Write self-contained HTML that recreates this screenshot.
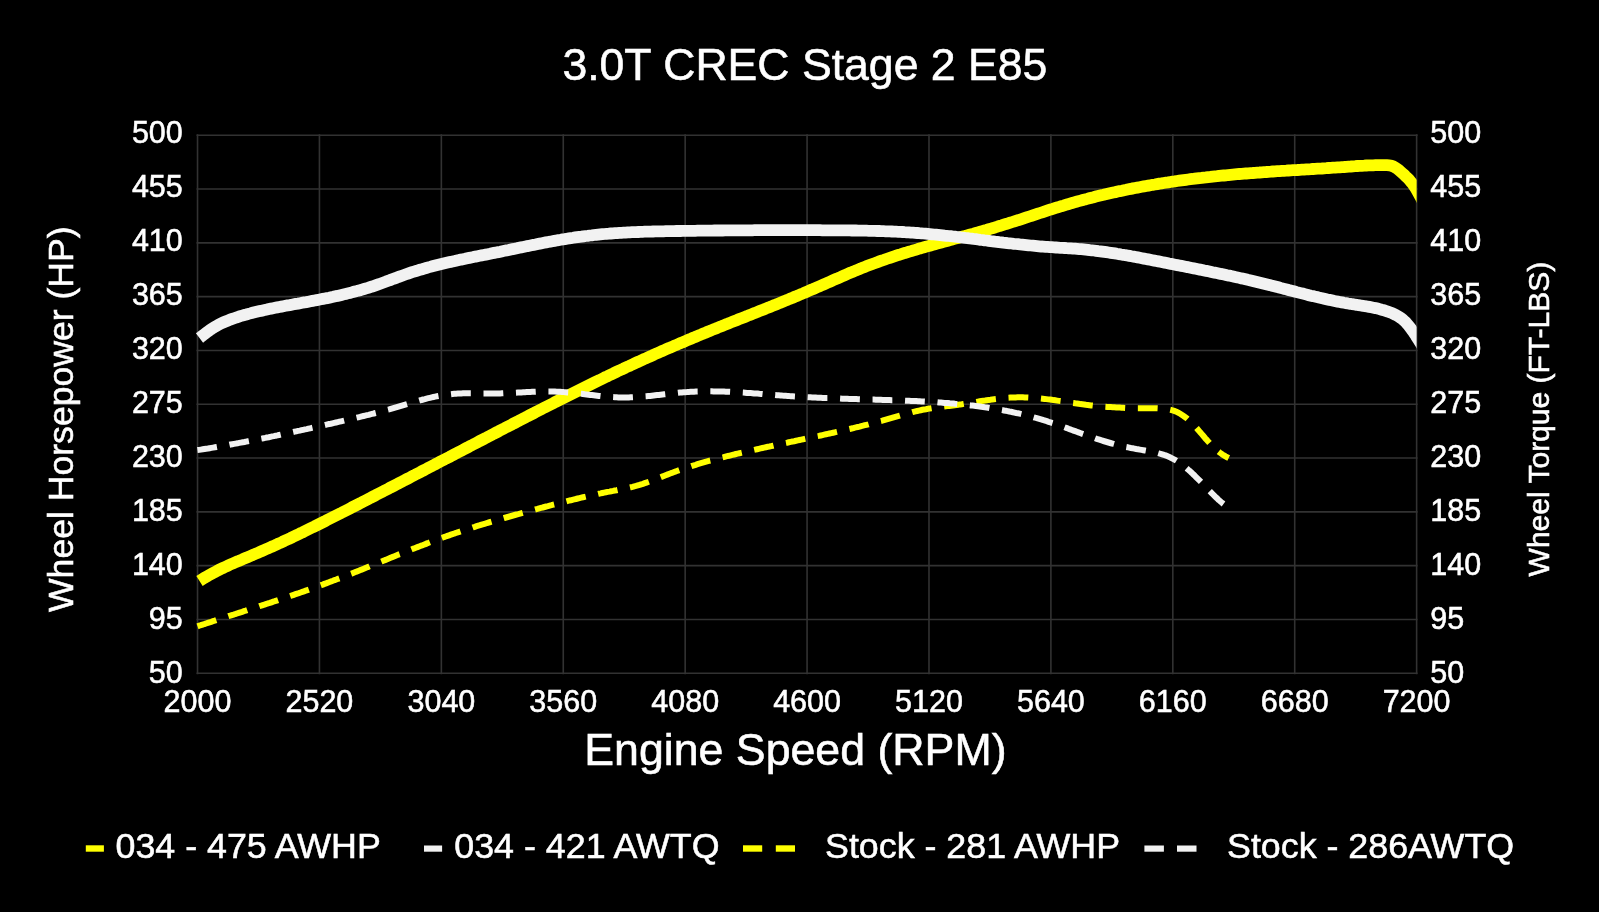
<!DOCTYPE html>
<html><head><meta charset="utf-8"><title>3.0T CREC Stage 2 E85</title><style>html,body{margin:0;padding:0;background:#000;width:1599px;height:912px;overflow:hidden}svg text{font-family:"Liberation Sans",sans-serif}</style></head><body>
<svg width="1599" height="912" viewBox="0 0 1599 912" style="display:block;will-change:transform">
<rect width="1599" height="912" fill="#000"/>
<defs><clipPath id="pa"><rect x="193.53" y="115.25" width="1223.10" height="578.00"/></clipPath></defs>
<g stroke="#323232" stroke-width="1.6"><line x1="196.5" y1="135.25" x2="1417.6" y2="135.25"/><line x1="197.53" y1="134.2" x2="197.53" y2="674.2"/><line x1="196.5" y1="189.05" x2="1417.6" y2="189.05"/><line x1="319.44" y1="134.2" x2="319.44" y2="674.2"/><line x1="196.5" y1="242.85" x2="1417.6" y2="242.85"/><line x1="441.35" y1="134.2" x2="441.35" y2="674.2"/><line x1="196.5" y1="296.65" x2="1417.6" y2="296.65"/><line x1="563.26" y1="134.2" x2="563.26" y2="674.2"/><line x1="196.5" y1="350.45" x2="1417.6" y2="350.45"/><line x1="685.17" y1="134.2" x2="685.17" y2="674.2"/><line x1="196.5" y1="404.25" x2="1417.6" y2="404.25"/><line x1="807.08" y1="134.2" x2="807.08" y2="674.2"/><line x1="196.5" y1="458.05" x2="1417.6" y2="458.05"/><line x1="928.99" y1="134.2" x2="928.99" y2="674.2"/><line x1="196.5" y1="511.85" x2="1417.6" y2="511.85"/><line x1="1050.90" y1="134.2" x2="1050.90" y2="674.2"/><line x1="196.5" y1="565.65" x2="1417.6" y2="565.65"/><line x1="1172.81" y1="134.2" x2="1172.81" y2="674.2"/><line x1="196.5" y1="619.45" x2="1417.6" y2="619.45"/><line x1="1294.72" y1="134.2" x2="1294.72" y2="674.2"/><line x1="196.5" y1="673.25" x2="1417.6" y2="673.25"/><line x1="1416.63" y1="134.2" x2="1416.63" y2="674.2"/></g>
<g clip-path="url(#pa)" fill="none">
<path d="M199.5,581.0 L201.4,579.8 L203.3,578.6 L205.2,577.4 L207.1,576.3 L209.1,575.2 L211.0,574.1 L213.0,573.0 L215.0,572.0 L216.9,570.9 L218.9,569.9 L220.9,568.9 L222.9,568.0 L225.0,567.0 L227.0,566.1 L229.0,565.1 L231.1,564.2 L233.1,563.3 L235.2,562.4 L237.2,561.5 L239.3,560.7 L241.4,559.8 L243.4,558.9 L245.5,558.0 L247.5,557.2 L249.6,556.3 L251.7,555.4 L253.7,554.6 L255.8,553.7 L257.9,552.8 L259.9,551.9 L262.0,551.0 L264.0,550.1 L266.1,549.2 L268.1,548.3 L270.2,547.4 L272.2,546.5 L274.3,545.6 L276.3,544.7 L278.3,543.7 L280.4,542.8 L282.4,541.9 L284.4,540.9 L286.5,540.0 L288.5,539.0 L290.5,538.1 L292.5,537.1 L294.5,536.2 L296.6,535.2 L298.6,534.2 L300.6,533.2 L302.6,532.3 L304.6,531.3 L306.6,530.3 L308.6,529.3 L310.6,528.3 L312.6,527.3 L314.6,526.4 L316.6,525.4 L318.6,524.4 L320.6,523.4 L322.6,522.4 L324.6,521.4 L326.6,520.3 L328.6,519.3 L330.6,518.3 L332.6,517.3 L334.6,516.3 L336.6,515.3 L338.6,514.3 L340.6,513.3 L342.6,512.2 L344.6,511.2 L346.6,510.2 L348.6,509.2 L350.5,508.2 L352.5,507.1 L354.5,506.1 L356.5,505.1 L358.5,504.1 L360.5,503.1 L362.5,502.0 L364.5,501.0 L366.5,500.0 L368.4,499.0 L370.4,497.9 L372.4,496.9 L374.4,495.9 L376.4,494.8 L378.4,493.8 L380.4,492.8 L382.4,491.8 L384.3,490.7 L386.3,489.7 L388.3,488.7 L390.3,487.6 L392.3,486.6 L394.3,485.6 L396.3,484.6 L398.3,483.5 L400.2,482.5 L402.2,481.5 L404.2,480.4 L406.2,479.4 L408.2,478.4 L410.2,477.3 L412.1,476.3 L414.1,475.3 L416.1,474.2 L418.1,473.2 L420.1,472.2 L422.1,471.1 L424.1,470.1 L426.0,469.1 L428.0,468.0 L430.0,467.0 L432.0,466.0 L434.0,464.9 L436.0,463.9 L437.9,462.9 L439.9,461.8 L441.9,460.8 L443.9,459.8 L445.9,458.7 L447.9,457.7 L449.9,456.7 L451.8,455.6 L453.8,454.6 L455.8,453.6 L457.8,452.5 L459.8,451.5 L461.8,450.5 L463.7,449.4 L465.7,448.4 L467.7,447.4 L469.7,446.3 L471.7,445.3 L473.7,444.2 L475.7,443.2 L477.6,442.2 L479.6,441.1 L481.6,440.1 L483.6,439.1 L485.6,438.1 L487.6,437.0 L489.6,436.0 L491.5,435.0 L493.5,433.9 L495.5,432.9 L497.5,431.9 L499.5,430.8 L501.5,429.8 L503.5,428.8 L505.5,427.7 L507.4,426.7 L509.4,425.7 L511.4,424.7 L513.4,423.6 L515.4,422.6 L517.4,421.6 L519.4,420.5 L521.4,419.5 L523.3,418.5 L525.3,417.5 L527.3,416.4 L529.3,415.4 L531.3,414.4 L533.3,413.4 L535.3,412.3 L537.3,411.3 L539.3,410.3 L541.3,409.3 L543.3,408.2 L545.2,407.2 L547.2,406.2 L549.2,405.2 L551.2,404.2 L553.2,403.2 L555.2,402.1 L557.2,401.1 L559.2,400.1 L561.2,399.1 L563.2,398.1 L565.2,397.1 L567.2,396.1 L569.2,395.1 L571.2,394.1 L573.2,393.1 L575.2,392.1 L577.2,391.1 L579.2,390.1 L581.2,389.1 L583.2,388.1 L585.2,387.1 L587.2,386.1 L589.2,385.1 L591.2,384.1 L593.2,383.1 L595.2,382.1 L597.3,381.1 L599.3,380.2 L601.3,379.2 L603.3,378.2 L605.3,377.2 L607.3,376.3 L609.3,375.3 L611.4,374.3 L613.4,373.4 L615.4,372.4 L617.4,371.4 L619.5,370.5 L621.5,369.5 L623.5,368.6 L625.5,367.6 L627.6,366.7 L629.6,365.8 L631.6,364.8 L633.7,363.9 L635.7,362.9 L637.7,362.0 L639.8,361.1 L641.8,360.2 L643.8,359.2 L645.9,358.3 L647.9,357.4 L650.0,356.5 L652.0,355.6 L654.0,354.6 L656.1,353.7 L658.1,352.8 L660.2,351.9 L662.2,351.0 L664.3,350.1 L666.3,349.2 L668.4,348.3 L670.4,347.5 L672.5,346.6 L674.5,345.7 L676.6,344.8 L678.7,343.9 L680.7,343.0 L682.8,342.2 L684.8,341.3 L686.9,340.4 L689.0,339.5 L691.0,338.7 L693.1,337.8 L695.2,337.0 L697.2,336.1 L699.3,335.2 L701.4,334.4 L703.4,333.5 L705.5,332.7 L707.6,331.8 L709.6,331.0 L711.7,330.1 L713.8,329.3 L715.9,328.5 L717.9,327.6 L720.0,326.8 L722.1,326.0 L724.2,325.1 L726.2,324.3 L728.3,323.5 L730.4,322.6 L732.5,321.8 L734.5,321.0 L736.6,320.2 L738.7,319.3 L740.8,318.5 L742.9,317.7 L744.9,316.9 L747.0,316.1 L749.1,315.2 L751.2,314.4 L753.3,313.6 L755.3,312.8 L757.4,311.9 L759.5,311.1 L761.6,310.3 L763.7,309.5 L765.7,308.6 L767.8,307.8 L769.9,307.0 L772.0,306.1 L774.0,305.3 L776.1,304.5 L778.2,303.6 L780.3,302.8 L782.3,301.9 L784.4,301.1 L786.5,300.2 L788.5,299.4 L790.6,298.5 L792.7,297.7 L794.7,296.8 L796.8,296.0 L798.9,295.1 L800.9,294.2 L803.0,293.4 L805.1,292.5 L807.1,291.6 L809.2,290.7 L811.2,289.8 L813.3,289.0 L815.3,288.1 L817.4,287.2 L819.4,286.3 L821.5,285.4 L823.6,284.5 L825.6,283.6 L827.7,282.7 L829.7,281.8 L831.8,280.8 L833.8,279.9 L835.9,279.0 L837.9,278.2 L840.0,277.3 L842.0,276.4 L844.1,275.5 L846.1,274.6 L848.2,273.7 L850.2,272.8 L852.3,272.0 L854.4,271.1 L856.4,270.3 L858.5,269.4 L860.6,268.6 L862.6,267.7 L864.7,266.9 L866.8,266.1 L868.9,265.3 L871.0,264.5 L873.1,263.7 L875.2,263.0 L877.3,262.2 L879.4,261.4 L881.5,260.7 L883.6,260.0 L885.7,259.2 L887.8,258.5 L889.9,257.8 L892.0,257.1 L894.2,256.4 L896.3,255.7 L898.4,255.0 L900.5,254.4 L902.7,253.7 L904.8,253.0 L906.9,252.4 L909.1,251.7 L911.2,251.1 L913.4,250.4 L915.5,249.8 L917.6,249.2 L919.8,248.5 L921.9,247.9 L924.1,247.3 L926.2,246.7 L928.4,246.1 L930.5,245.5 L932.7,244.9 L934.9,244.3 L937.0,243.7 L939.2,243.1 L941.3,242.5 L943.5,241.9 L945.6,241.3 L947.8,240.7 L950.0,240.1 L952.1,239.5 L954.3,238.9 L956.4,238.3 L958.6,237.7 L960.8,237.1 L962.9,236.5 L965.1,236.0 L967.2,235.4 L969.4,234.8 L971.6,234.2 L973.7,233.6 L975.9,232.9 L978.0,232.3 L980.2,231.7 L982.3,231.1 L984.5,230.5 L986.7,229.9 L988.8,229.2 L991.0,228.6 L993.1,228.0 L995.2,227.3 L997.4,226.7 L999.5,226.0 L1001.7,225.4 L1003.8,224.7 L1006.0,224.0 L1008.1,223.4 L1010.2,222.7 L1012.4,222.0 L1014.5,221.3 L1016.6,220.6 L1018.7,220.0 L1020.9,219.3 L1023.0,218.6 L1025.1,217.9 L1027.3,217.2 L1029.4,216.5 L1031.5,215.8 L1033.6,215.1 L1035.8,214.4 L1037.9,213.7 L1040.0,213.0 L1042.2,212.3 L1044.3,211.6 L1046.4,210.9 L1048.5,210.2 L1050.7,209.5 L1052.8,208.9 L1054.9,208.2 L1057.1,207.5 L1059.2,206.9 L1061.3,206.2 L1063.5,205.6 L1065.6,204.9 L1067.8,204.3 L1069.9,203.6 L1072.1,203.0 L1074.2,202.4 L1076.4,201.8 L1078.5,201.2 L1080.7,200.6 L1082.8,200.0 L1085.0,199.4 L1087.1,198.9 L1089.3,198.3 L1091.5,197.7 L1093.6,197.2 L1095.8,196.6 L1098.0,196.1 L1100.1,195.6 L1102.3,195.1 L1104.5,194.5 L1106.7,194.0 L1108.8,193.5 L1111.0,193.0 L1113.2,192.5 L1115.4,192.1 L1117.6,191.6 L1119.8,191.1 L1121.9,190.7 L1124.1,190.2 L1126.3,189.8 L1128.5,189.3 L1130.7,188.9 L1132.9,188.4 L1135.1,188.0 L1137.3,187.6 L1139.5,187.2 L1141.7,186.8 L1143.9,186.4 L1146.1,186.0 L1148.3,185.6 L1150.5,185.2 L1152.7,184.8 L1154.9,184.5 L1157.1,184.1 L1159.3,183.7 L1161.5,183.4 L1163.8,183.0 L1166.0,182.7 L1168.2,182.4 L1170.4,182.0 L1172.6,181.7 L1174.8,181.4 L1177.0,181.0 L1179.3,180.7 L1181.5,180.4 L1183.7,180.1 L1185.9,179.8 L1188.1,179.5 L1190.4,179.2 L1192.6,179.0 L1194.8,178.7 L1197.0,178.4 L1199.3,178.1 L1201.5,177.9 L1203.7,177.6 L1205.9,177.4 L1208.2,177.1 L1210.4,176.9 L1212.6,176.6 L1214.9,176.4 L1217.1,176.2 L1219.3,175.9 L1221.5,175.7 L1223.8,175.5 L1226.0,175.3 L1228.2,175.0 L1230.5,174.8 L1232.7,174.6 L1234.9,174.4 L1237.2,174.2 L1239.4,174.0 L1241.6,173.9 L1243.9,173.7 L1246.1,173.5 L1248.3,173.3 L1250.6,173.1 L1252.8,173.0 L1255.0,172.8 L1257.3,172.6 L1259.5,172.5 L1261.7,172.3 L1264.0,172.1 L1266.2,172.0 L1268.4,171.8 L1270.7,171.7 L1272.9,171.5 L1275.1,171.4 L1277.3,171.2 L1279.6,171.1 L1281.8,170.9 L1284.0,170.8 L1286.3,170.7 L1288.5,170.5 L1290.7,170.4 L1293.0,170.2 L1295.2,170.1 L1297.4,170.0 L1299.7,169.8 L1301.9,169.7 L1304.1,169.6 L1306.3,169.4 L1308.6,169.3 L1310.8,169.2 L1313.0,169.0 L1315.2,168.9 L1317.5,168.7 L1319.7,168.6 L1321.9,168.5 L1324.1,168.3 L1326.4,168.2 L1328.6,168.0 L1330.8,167.9 L1333.0,167.7 L1335.3,167.6 L1337.5,167.4 L1339.7,167.3 L1341.9,167.1 L1344.1,167.0 L1346.3,166.8 L1348.6,166.6 L1350.8,166.5 L1353.0,166.3 L1355.2,166.2 L1357.5,166.0 L1359.7,165.9 L1361.9,165.8 L1364.2,165.7 L1366.4,165.5 L1368.6,165.4 L1370.9,165.4 L1373.2,165.3 L1375.4,165.2 L1377.7,165.2 L1380.0,165.1 L1382.3,165.1 L1384.6,165.1 L1386.9,165.2 L1389.1,165.3 L1391.3,165.7 L1393.3,166.5 L1395.3,167.5 L1397.1,168.7 L1398.9,170.1 L1400.6,171.6 L1402.3,173.1 L1404.0,174.6 L1405.6,176.2 L1407.2,177.7 L1408.8,179.3 L1410.2,181.0 L1411.6,182.7 L1413.0,184.5 L1414.3,186.3 L1415.5,188.2 L1416.7,190.1 L1417.8,192.1 L1418.9,194.1 L1420.0,196.1 L1421.1,198.1 L1422.1,200.1 L1423.1,202.1 L1424.1,204.2 L1425.1,206.2 L1426.0,208.2 L1427.0,210.2 L1428.0,212.2 L1429.0,214.1 L1430.0,216.0" stroke="#ffff00" stroke-width="11.8"/>
<path d="M199.5,338.0 L201.2,336.7 L202.8,335.4 L204.5,334.1 L206.2,332.8 L207.9,331.6 L209.6,330.3 L211.3,329.1 L213.1,327.9 L214.9,326.8 L216.7,325.8 L218.6,324.7 L220.4,323.8 L222.3,322.9 L224.3,322.0 L226.2,321.2 L228.2,320.4 L230.2,319.6 L232.2,318.9 L234.2,318.2 L236.2,317.5 L238.2,316.9 L240.2,316.2 L242.3,315.6 L244.3,315.0 L246.3,314.5 L248.4,313.9 L250.4,313.4 L252.5,312.8 L254.5,312.3 L256.6,311.8 L258.6,311.3 L260.7,310.9 L262.8,310.4 L264.8,309.9 L266.9,309.5 L268.9,309.0 L271.0,308.6 L273.1,308.2 L275.1,307.8 L277.2,307.4 L279.3,307.0 L281.4,306.6 L283.4,306.2 L285.5,305.8 L287.6,305.4 L289.7,305.1 L291.8,304.7 L293.8,304.3 L295.9,303.9 L298.0,303.6 L300.1,303.2 L302.1,302.8 L304.2,302.4 L306.3,302.1 L308.4,301.7 L310.5,301.3 L312.5,300.9 L314.6,300.5 L316.7,300.1 L318.8,299.7 L320.9,299.3 L322.9,298.9 L325.0,298.5 L327.1,298.1 L329.2,297.7 L331.2,297.2 L333.3,296.8 L335.4,296.3 L337.4,295.9 L339.5,295.4 L341.6,294.9 L343.6,294.4 L345.7,293.9 L347.7,293.4 L349.8,292.9 L351.8,292.4 L353.9,291.8 L355.9,291.3 L358.0,290.7 L360.0,290.2 L362.0,289.6 L364.1,289.0 L366.1,288.4 L368.1,287.8 L370.1,287.1 L372.1,286.5 L374.2,285.8 L376.2,285.1 L378.2,284.4 L380.2,283.7 L382.2,283.0 L384.2,282.3 L386.1,281.6 L388.1,280.8 L390.1,280.1 L392.1,279.3 L394.1,278.6 L396.1,277.9 L398.1,277.1 L400.1,276.4 L402.0,275.7 L404.0,275.0 L406.0,274.3 L408.0,273.6 L410.0,272.9 L412.0,272.2 L414.0,271.6 L416.1,271.0 L418.1,270.4 L420.1,269.7 L422.1,269.2 L424.1,268.6 L426.2,268.0 L428.2,267.4 L430.2,266.9 L432.3,266.3 L434.3,265.8 L436.3,265.3 L438.4,264.8 L440.4,264.3 L442.5,263.8 L444.5,263.3 L446.6,262.8 L448.6,262.3 L450.7,261.9 L452.7,261.4 L454.8,261.0 L456.9,260.5 L458.9,260.1 L461.0,259.6 L463.1,259.2 L465.1,258.8 L467.2,258.3 L469.3,257.9 L471.3,257.5 L473.4,257.1 L475.5,256.6 L477.5,256.2 L479.6,255.8 L481.7,255.4 L483.8,255.0 L485.8,254.6 L487.9,254.2 L490.0,253.8 L492.1,253.3 L494.1,252.9 L496.2,252.5 L498.3,252.1 L500.4,251.7 L502.4,251.2 L504.5,250.8 L506.6,250.4 L508.7,250.0 L510.7,249.5 L512.8,249.1 L514.9,248.7 L517.0,248.3 L519.0,247.8 L521.1,247.4 L523.2,247.0 L525.3,246.6 L527.3,246.1 L529.4,245.7 L531.5,245.3 L533.6,244.9 L535.6,244.5 L537.7,244.0 L539.8,243.6 L541.9,243.2 L544.0,242.8 L546.0,242.4 L548.1,242.0 L550.2,241.7 L552.3,241.3 L554.4,240.9 L556.4,240.5 L558.5,240.1 L560.6,239.8 L562.7,239.4 L564.8,239.1 L566.9,238.7 L568.9,238.4 L571.0,238.1 L573.1,237.8 L575.2,237.4 L577.3,237.1 L579.4,236.8 L581.5,236.6 L583.6,236.3 L585.7,236.0 L587.8,235.8 L589.9,235.5 L592.0,235.3 L594.0,235.0 L596.1,234.8 L598.2,234.6 L600.3,234.4 L602.4,234.2 L604.5,234.0 L606.6,233.8 L608.8,233.7 L610.9,233.5 L613.0,233.4 L615.1,233.2 L617.2,233.1 L619.3,232.9 L621.4,232.8 L623.5,232.7 L625.6,232.6 L627.7,232.4 L629.8,232.3 L631.9,232.2 L634.0,232.1 L636.1,232.1 L638.3,232.0 L640.4,231.9 L642.5,231.8 L644.6,231.7 L646.7,231.7 L648.8,231.6 L650.9,231.6 L653.0,231.5 L655.2,231.4 L657.3,231.4 L659.4,231.3 L661.5,231.3 L663.6,231.3 L665.7,231.2 L667.8,231.2 L670.0,231.1 L672.1,231.1 L674.2,231.1 L676.3,231.0 L678.4,231.0 L680.5,231.0 L682.6,230.9 L684.8,230.9 L686.9,230.9 L689.0,230.8 L691.1,230.8 L693.2,230.8 L695.3,230.8 L697.4,230.7 L699.6,230.7 L701.7,230.7 L703.8,230.7 L705.9,230.6 L708.0,230.6 L710.1,230.6 L712.2,230.6 L714.4,230.5 L716.5,230.5 L718.6,230.5 L720.7,230.5 L722.8,230.5 L724.9,230.4 L727.0,230.4 L729.2,230.4 L731.3,230.4 L733.4,230.4 L735.5,230.4 L737.6,230.3 L739.7,230.3 L741.8,230.3 L744.0,230.3 L746.1,230.3 L748.2,230.3 L750.3,230.3 L752.4,230.3 L754.5,230.2 L756.6,230.2 L758.7,230.2 L760.9,230.2 L763.0,230.2 L765.1,230.2 L767.2,230.2 L769.3,230.2 L771.4,230.2 L773.5,230.2 L775.7,230.2 L777.8,230.2 L779.9,230.2 L782.0,230.2 L784.1,230.2 L786.2,230.2 L788.3,230.2 L790.5,230.2 L792.6,230.2 L794.7,230.2 L796.8,230.2 L798.9,230.2 L801.0,230.2 L803.1,230.2 L805.3,230.2 L807.4,230.2 L809.5,230.2 L811.6,230.2 L813.7,230.2 L815.8,230.2 L817.9,230.2 L820.1,230.2 L822.2,230.3 L824.3,230.3 L826.4,230.3 L828.5,230.3 L830.6,230.3 L832.7,230.3 L834.9,230.3 L837.0,230.3 L839.1,230.3 L841.2,230.4 L843.3,230.4 L845.4,230.4 L847.5,230.4 L849.7,230.4 L851.8,230.5 L853.9,230.5 L856.0,230.5 L858.1,230.6 L860.2,230.6 L862.3,230.6 L864.5,230.7 L866.6,230.7 L868.7,230.8 L870.8,230.8 L872.9,230.9 L875.0,230.9 L877.1,231.0 L879.2,231.0 L881.4,231.1 L883.5,231.2 L885.6,231.3 L887.7,231.3 L889.8,231.4 L891.9,231.5 L894.0,231.6 L896.1,231.7 L898.2,231.8 L900.3,231.9 L902.5,232.0 L904.6,232.2 L906.7,232.3 L908.8,232.4 L910.9,232.6 L913.0,232.7 L915.1,232.9 L917.2,233.0 L919.3,233.2 L921.4,233.3 L923.5,233.5 L925.6,233.7 L927.7,233.9 L929.8,234.1 L931.9,234.3 L934.0,234.5 L936.1,234.7 L938.2,234.9 L940.3,235.1 L942.4,235.3 L944.5,235.6 L946.6,235.8 L948.7,236.0 L950.8,236.2 L952.9,236.5 L955.0,236.7 L957.1,237.0 L959.2,237.2 L961.3,237.5 L963.4,237.7 L965.5,238.0 L967.6,238.2 L969.7,238.5 L971.8,238.7 L973.9,239.0 L976.0,239.2 L978.1,239.5 L980.2,239.8 L982.3,240.0 L984.4,240.3 L986.5,240.5 L988.6,240.8 L990.7,241.1 L992.8,241.3 L994.9,241.6 L997.0,241.8 L999.1,242.1 L1001.2,242.3 L1003.3,242.6 L1005.4,242.8 L1007.5,243.1 L1009.6,243.3 L1011.7,243.5 L1013.8,243.8 L1015.9,244.0 L1018.1,244.2 L1020.2,244.5 L1022.3,244.7 L1024.4,244.9 L1026.5,245.1 L1028.6,245.3 L1030.7,245.5 L1032.8,245.7 L1034.9,245.9 L1037.0,246.1 L1039.1,246.3 L1041.2,246.5 L1043.3,246.6 L1045.5,246.8 L1047.6,246.9 L1049.7,247.1 L1051.8,247.2 L1053.9,247.4 L1056.0,247.5 L1058.1,247.6 L1060.3,247.8 L1062.4,247.9 L1064.5,248.0 L1066.6,248.2 L1068.7,248.3 L1070.8,248.4 L1073.0,248.6 L1075.1,248.7 L1077.2,248.9 L1079.3,249.1 L1081.4,249.2 L1083.5,249.4 L1085.6,249.6 L1087.7,249.8 L1089.8,250.1 L1091.9,250.3 L1094.0,250.5 L1096.1,250.8 L1098.2,251.1 L1100.3,251.3 L1102.3,251.6 L1104.4,251.9 L1106.5,252.2 L1108.6,252.5 L1110.7,252.8 L1112.8,253.1 L1114.9,253.4 L1116.9,253.8 L1119.0,254.1 L1121.1,254.5 L1123.2,254.8 L1125.3,255.2 L1127.3,255.5 L1129.4,255.9 L1131.5,256.3 L1133.6,256.6 L1135.6,257.0 L1137.7,257.4 L1139.8,257.8 L1141.9,258.2 L1143.9,258.6 L1146.0,259.0 L1148.1,259.4 L1150.2,259.8 L1152.2,260.2 L1154.3,260.6 L1156.4,261.0 L1158.5,261.4 L1160.5,261.8 L1162.6,262.2 L1164.7,262.6 L1166.8,263.0 L1168.8,263.5 L1170.9,263.9 L1173.0,264.3 L1175.1,264.7 L1177.2,265.1 L1179.2,265.5 L1181.3,265.9 L1183.4,266.3 L1185.5,266.7 L1187.6,267.1 L1189.6,267.6 L1191.7,268.0 L1193.8,268.4 L1195.9,268.8 L1198.0,269.2 L1200.0,269.6 L1202.1,270.0 L1204.2,270.5 L1206.3,270.9 L1208.4,271.3 L1210.4,271.7 L1212.5,272.2 L1214.6,272.6 L1216.7,273.0 L1218.7,273.4 L1220.8,273.9 L1222.9,274.3 L1225.0,274.7 L1227.0,275.2 L1229.1,275.6 L1231.2,276.1 L1233.2,276.5 L1235.3,277.0 L1237.4,277.4 L1239.4,277.9 L1241.5,278.4 L1243.6,278.8 L1245.6,279.3 L1247.7,279.8 L1249.7,280.2 L1251.8,280.7 L1253.8,281.2 L1255.9,281.7 L1257.9,282.2 L1260.0,282.7 L1262.0,283.2 L1264.1,283.7 L1266.1,284.2 L1268.2,284.7 L1270.2,285.2 L1272.2,285.8 L1274.3,286.3 L1276.3,286.8 L1278.4,287.3 L1280.4,287.9 L1282.4,288.4 L1284.5,288.9 L1286.5,289.4 L1288.5,290.0 L1290.5,290.5 L1292.6,291.0 L1294.6,291.5 L1296.7,292.1 L1298.7,292.6 L1300.7,293.1 L1302.8,293.6 L1304.8,294.1 L1306.8,294.6 L1308.9,295.2 L1310.9,295.7 L1313.0,296.1 L1315.0,296.6 L1317.1,297.1 L1319.1,297.6 L1321.2,298.1 L1323.2,298.5 L1325.3,299.0 L1327.3,299.5 L1329.4,299.9 L1331.5,300.3 L1333.5,300.8 L1335.6,301.2 L1337.7,301.6 L1339.8,302.0 L1341.9,302.4 L1344.0,302.8 L1346.0,303.1 L1348.1,303.5 L1350.2,303.8 L1352.4,304.2 L1354.5,304.5 L1356.6,304.8 L1358.7,305.2 L1360.8,305.5 L1362.9,305.8 L1365.0,306.2 L1367.1,306.5 L1369.2,306.9 L1371.3,307.3 L1373.4,307.7 L1375.5,308.1 L1377.6,308.6 L1379.6,309.1 L1381.7,309.7 L1383.7,310.2 L1385.7,310.9 L1387.7,311.5 L1389.7,312.3 L1391.7,313.0 L1393.6,313.9 L1395.5,314.8 L1397.4,315.8 L1399.2,316.9 L1400.9,318.1 L1402.6,319.4 L1404.2,320.8 L1405.7,322.2 L1407.1,323.8 L1408.5,325.4 L1409.8,327.1 L1411.1,328.8 L1412.3,330.5 L1413.5,332.2 L1414.7,334.0 L1415.9,335.8 L1417.0,337.6 L1418.1,339.4 L1419.2,341.1 L1420.3,342.9 L1421.5,344.7 L1422.6,346.5 L1423.8,348.2 L1425.0,350.0" stroke="#f2f2f2" stroke-width="11.8"/>
<path d="M197.5,626.3 L199.2,625.7 L200.9,625.2 L202.6,624.6 L204.4,624.0 L206.1,623.5 L207.8,622.9 L209.5,622.3 L211.2,621.8 L213.0,621.2 L214.7,620.7 L216.4,620.1 L218.1,619.6 L219.8,619.0 L221.6,618.4 L223.3,617.9 L225.0,617.3 L226.7,616.8 L228.4,616.2 L230.2,615.7 L231.9,615.1 L233.6,614.6 L235.3,614.0 L237.1,613.5 L238.8,612.9 L240.5,612.3 L242.2,611.8 L243.9,611.2 L245.7,610.7 L247.4,610.1 L249.1,609.6 L250.8,609.0 L252.6,608.5 L254.3,607.9 L256.0,607.3 L257.7,606.8 L259.4,606.2 L261.2,605.7 L262.9,605.1 L264.6,604.5 L266.3,604.0 L268.0,603.4 L269.8,602.9 L271.5,602.3 L273.2,601.7 L274.9,601.2 L276.6,600.6 L278.3,600.0 L280.1,599.4 L281.8,598.9 L283.5,598.3 L285.2,597.7 L286.9,597.1 L288.6,596.6 L290.3,596.0 L292.1,595.4 L293.8,594.8 L295.5,594.2 L297.2,593.6 L298.9,593.1 L300.6,592.5 L302.3,591.9 L304.0,591.3 L305.7,590.7 L307.4,590.1 L309.1,589.5 L310.8,588.9 L312.5,588.3 L314.3,587.7 L316.0,587.0 L317.7,586.4 L319.4,585.8 L321.1,585.2 L322.8,584.6 L324.4,583.9 L326.1,583.3 L327.8,582.7 L329.5,582.0 L331.2,581.4 L332.9,580.8 L334.6,580.1 L336.3,579.5 L338.0,578.8 L339.7,578.2 L341.4,577.5 L343.0,576.9 L344.7,576.2 L346.4,575.6 L348.1,574.9 L349.8,574.2 L351.5,573.6 L353.1,572.9 L354.8,572.2 L356.5,571.6 L358.2,570.9 L359.9,570.2 L361.5,569.6 L363.2,568.9 L364.9,568.2 L366.6,567.5 L368.3,566.9 L369.9,566.2 L371.6,565.5 L373.3,564.8 L375.0,564.1 L376.6,563.5 L378.3,562.8 L380.0,562.1 L381.7,561.4 L383.3,560.7 L385.0,560.1 L386.7,559.4 L388.4,558.7 L390.0,558.0 L391.7,557.3 L393.4,556.7 L395.1,556.0 L396.8,555.3 L398.4,554.6 L400.1,554.0 L401.8,553.3 L403.5,552.6 L405.2,552.0 L406.8,551.3 L408.5,550.6 L410.2,550.0 L411.9,549.3 L413.6,548.6 L415.2,548.0 L416.9,547.3 L418.6,546.7 L420.3,546.0 L422.0,545.4 L423.7,544.7 L425.4,544.1 L427.0,543.4 L428.7,542.8 L430.4,542.1 L432.1,541.5 L433.8,540.9 L435.5,540.2 L437.2,539.6 L438.9,539.0 L440.6,538.4 L442.3,537.8 L444.0,537.1 L445.7,536.5 L447.4,535.9 L449.1,535.3 L450.8,534.7 L452.5,534.1 L454.2,533.5 L455.9,533.0 L457.6,532.4 L459.4,531.8 L461.1,531.2 L462.8,530.7 L464.5,530.1 L466.2,529.5 L467.9,529.0 L469.7,528.4 L471.4,527.9 L473.1,527.3 L474.8,526.8 L476.6,526.2 L478.3,525.7 L480.0,525.2 L481.7,524.6 L483.5,524.1 L485.2,523.6 L486.9,523.0 L488.7,522.5 L490.4,522.0 L492.1,521.5 L493.9,521.0 L495.6,520.5 L497.3,520.0 L499.1,519.5 L500.8,519.0 L502.6,518.5 L504.3,518.0 L506.0,517.5 L507.8,517.0 L509.5,516.5 L511.3,516.0 L513.0,515.5 L514.7,515.0 L516.5,514.5 L518.2,514.1 L520.0,513.6 L521.7,513.1 L523.5,512.6 L525.2,512.1 L527.0,511.7 L528.7,511.2 L530.4,510.7 L532.2,510.3 L533.9,509.8 L535.7,509.3 L537.4,508.9 L539.2,508.4 L540.9,507.9 L542.7,507.5 L544.4,507.0 L546.2,506.5 L547.9,506.1 L549.7,505.6 L551.4,505.2 L553.2,504.7 L554.9,504.3 L556.7,503.8 L558.4,503.4 L560.2,502.9 L561.9,502.5 L563.7,502.0 L565.4,501.6 L567.2,501.1 L568.9,500.7 L570.7,500.3 L572.4,499.8 L574.2,499.4 L575.9,499.0 L577.7,498.5 L579.5,498.1 L581.2,497.7 L583.0,497.3 L584.7,496.9 L586.5,496.5 L588.3,496.1 L590.0,495.7 L591.8,495.3 L593.5,494.9 L595.3,494.5 L597.1,494.1 L598.8,493.7 L600.6,493.4 L602.4,493.0 L604.2,492.6 L605.9,492.3 L607.7,491.9 L609.5,491.6 L611.3,491.2 L613.1,490.9 L614.8,490.5 L616.6,490.2 L618.4,489.8 L620.2,489.5 L621.9,489.1 L623.7,488.8 L625.5,488.4 L627.3,488.0 L629.0,487.6 L630.8,487.2 L632.5,486.8 L634.3,486.3 L636.0,485.9 L637.8,485.4 L639.5,484.9 L641.2,484.3 L643.0,483.8 L644.7,483.2 L646.4,482.6 L648.1,482.0 L649.8,481.4 L651.5,480.8 L653.2,480.1 L654.9,479.5 L656.6,478.8 L658.2,478.2 L659.9,477.5 L661.6,476.8 L663.3,476.2 L665.0,475.5 L666.7,474.8 L668.4,474.2 L670.1,473.5 L671.8,472.9 L673.5,472.2 L675.2,471.6 L676.9,471.0 L678.6,470.4 L680.3,469.8 L682.0,469.2 L683.7,468.6 L685.4,468.0 L687.1,467.5 L688.8,466.9 L690.6,466.4 L692.3,465.8 L694.0,465.3 L695.7,464.8 L697.5,464.2 L699.2,463.7 L700.9,463.2 L702.7,462.7 L704.4,462.2 L706.2,461.7 L707.9,461.2 L709.6,460.7 L711.4,460.3 L713.1,459.8 L714.9,459.3 L716.6,458.9 L718.4,458.4 L720.1,458.0 L721.9,457.5 L723.6,457.1 L725.4,456.6 L727.1,456.2 L728.9,455.8 L730.7,455.3 L732.4,454.9 L734.2,454.5 L735.9,454.0 L737.7,453.6 L739.5,453.2 L741.2,452.8 L743.0,452.4 L744.7,452.0 L746.5,451.6 L748.3,451.2 L750.0,450.8 L751.8,450.4 L753.5,450.0 L755.3,449.6 L757.1,449.2 L758.8,448.8 L760.6,448.4 L762.4,448.0 L764.1,447.6 L765.9,447.2 L767.7,446.8 L769.4,446.5 L771.2,446.1 L773.0,445.7 L774.7,445.3 L776.5,444.9 L778.3,444.5 L780.0,444.2 L781.8,443.8 L783.6,443.4 L785.3,443.0 L787.1,442.7 L788.9,442.3 L790.7,441.9 L792.4,441.5 L794.2,441.2 L796.0,440.8 L797.7,440.4 L799.5,440.0 L801.3,439.6 L803.0,439.3 L804.8,438.9 L806.6,438.5 L808.3,438.1 L810.1,437.8 L811.9,437.4 L813.6,437.0 L815.4,436.6 L817.2,436.2 L818.9,435.9 L820.7,435.5 L822.5,435.1 L824.2,434.7 L826.0,434.3 L827.8,433.9 L829.5,433.5 L831.3,433.1 L833.1,432.7 L834.8,432.3 L836.6,431.9 L838.4,431.5 L840.1,431.1 L841.9,430.7 L843.7,430.3 L845.4,429.9 L847.2,429.5 L848.9,429.1 L850.7,428.7 L852.5,428.3 L854.2,427.8 L856.0,427.4 L857.7,427.0 L859.5,426.6 L861.2,426.1 L863.0,425.7 L864.8,425.2 L866.5,424.8 L868.3,424.4 L870.0,423.9 L871.8,423.5 L873.5,423.0 L875.3,422.5 L877.0,422.1 L878.8,421.6 L880.5,421.1 L882.3,420.7 L884.0,420.2 L885.8,419.7 L887.5,419.2 L889.2,418.7 L891.0,418.2 L892.7,417.7 L894.5,417.2 L896.2,416.7 L898.0,416.2 L899.7,415.7 L901.4,415.2 L903.2,414.7 L904.9,414.2 L906.7,413.7 L908.4,413.2 L910.2,412.8 L911.9,412.3 L913.6,411.8 L915.4,411.4 L917.2,411.0 L918.9,410.6 L920.7,410.2 L922.4,409.8 L924.2,409.5 L926.0,409.2 L927.8,408.8 L929.5,408.6 L931.3,408.3 L933.1,408.0 L934.9,407.8 L936.7,407.5 L938.5,407.3 L940.2,407.0 L942.0,406.8 L943.8,406.6 L945.6,406.4 L947.4,406.1 L949.2,405.9 L951.0,405.7 L952.8,405.5 L954.6,405.2 L956.4,405.0 L958.2,404.7 L960.0,404.4 L961.8,404.2 L963.6,403.9 L965.4,403.6 L967.2,403.3 L969.0,403.0 L970.8,402.8 L972.6,402.5 L974.4,402.2 L976.2,401.9 L977.9,401.6 L979.7,401.3 L981.5,401.0 L983.3,400.7 L985.1,400.5 L986.9,400.2 L988.7,399.9 L990.5,399.7 L992.3,399.4 L994.1,399.2 L995.9,399.0 L997.7,398.8 L999.5,398.5 L1001.3,398.4 L1003.1,398.2 L1004.9,398.0 L1006.7,397.9 L1008.5,397.7 L1010.3,397.6 L1012.1,397.5 L1013.9,397.4 L1015.7,397.4 L1017.5,397.3 L1019.3,397.3 L1021.1,397.3 L1022.9,397.3 L1024.7,397.4 L1026.5,397.4 L1028.3,397.5 L1030.1,397.6 L1031.9,397.7 L1033.7,397.8 L1035.5,398.0 L1037.3,398.1 L1039.1,398.3 L1040.9,398.5 L1042.7,398.7 L1044.5,398.9 L1046.3,399.1 L1048.1,399.4 L1049.9,399.6 L1051.7,399.8 L1053.5,400.1 L1055.3,400.3 L1057.1,400.6 L1058.9,400.9 L1060.7,401.1 L1062.5,401.4 L1064.3,401.7 L1066.1,401.9 L1067.9,402.2 L1069.7,402.5 L1071.5,402.8 L1073.3,403.0 L1075.1,403.3 L1076.9,403.5 L1078.7,403.8 L1080.5,404.1 L1082.3,404.3 L1084.1,404.5 L1085.9,404.8 L1087.7,405.0 L1089.4,405.2 L1091.2,405.4 L1093.0,405.6 L1094.8,405.8 L1096.6,406.0 L1098.4,406.1 L1100.1,406.3 L1101.9,406.4 L1103.7,406.6 L1105.5,406.7 L1107.3,406.9 L1109.1,407.0 L1110.8,407.1 L1112.6,407.2 L1114.4,407.3 L1116.2,407.5 L1118.0,407.5 L1119.8,407.6 L1121.6,407.7 L1123.4,407.8 L1125.2,407.9 L1127.0,407.9 L1128.8,408.0 L1130.6,408.0 L1132.4,408.1 L1134.2,408.1 L1136.1,408.2 L1137.9,408.2 L1139.7,408.2 L1141.5,408.3 L1143.4,408.3 L1145.2,408.3 L1147.1,408.3 L1148.9,408.3 L1150.8,408.3 L1152.6,408.3 L1154.5,408.3 L1156.3,408.3 L1158.2,408.4 L1160.0,408.5 L1161.9,408.6 L1163.7,408.7 L1165.5,408.9 L1167.3,409.2 L1169.0,409.5 L1170.8,409.9 L1172.5,410.4 L1174.2,410.9 L1175.8,411.6 L1177.5,412.3 L1179.1,413.1 L1180.6,414.0 L1182.1,415.0 L1183.6,416.0 L1185.0,417.0 L1186.5,418.1 L1187.8,419.3 L1189.2,420.5 L1190.5,421.7 L1191.8,423.0 L1193.1,424.3 L1194.3,425.6 L1195.6,426.9 L1196.8,428.3 L1198.0,429.7 L1199.2,431.1 L1200.4,432.5 L1201.6,433.9 L1202.8,435.3 L1204.0,436.7 L1205.2,438.2 L1206.5,439.6 L1207.7,441.0 L1208.9,442.3 L1210.1,443.7 L1211.4,445.0 L1212.7,446.3 L1214.0,447.6 L1215.3,448.9 L1216.7,450.1 L1218.0,451.2 L1219.5,452.4 L1220.9,453.4 L1222.4,454.5 L1223.9,455.4 L1225.5,456.4 L1227.1,457.2 L1228.7,458.0" stroke="#ffff00" stroke-width="6.0" stroke-dasharray="19.8 12.7"/>
<path d="M197.4,450.1 L199.2,449.9 L200.9,449.6 L202.7,449.3 L204.4,449.0 L206.1,448.7 L207.9,448.5 L209.6,448.2 L211.4,447.9 L213.1,447.6 L214.9,447.3 L216.6,447.0 L218.3,446.7 L220.1,446.4 L221.8,446.1 L223.6,445.8 L225.3,445.5 L227.0,445.2 L228.8,444.9 L230.5,444.5 L232.3,444.2 L234.0,443.9 L235.7,443.6 L237.5,443.3 L239.2,442.9 L240.9,442.6 L242.7,442.3 L244.4,442.0 L246.1,441.6 L247.9,441.3 L249.6,441.0 L251.3,440.6 L253.1,440.3 L254.8,439.9 L256.5,439.6 L258.3,439.3 L260.0,438.9 L261.7,438.6 L263.5,438.2 L265.2,437.9 L266.9,437.5 L268.7,437.2 L270.4,436.8 L272.1,436.4 L273.9,436.1 L275.6,435.7 L277.3,435.4 L279.0,435.0 L280.8,434.6 L282.5,434.3 L284.2,433.9 L286.0,433.6 L287.7,433.2 L289.4,432.8 L291.1,432.4 L292.9,432.1 L294.6,431.7 L296.3,431.3 L298.0,430.9 L299.8,430.6 L301.5,430.2 L303.2,429.8 L305.0,429.4 L306.7,429.1 L308.4,428.7 L310.1,428.3 L311.8,427.9 L313.6,427.5 L315.3,427.1 L317.0,426.8 L318.7,426.4 L320.5,426.0 L322.2,425.6 L323.9,425.2 L325.6,424.8 L327.4,424.4 L329.1,424.0 L330.8,423.7 L332.5,423.3 L334.2,422.9 L336.0,422.5 L337.7,422.1 L339.4,421.7 L341.1,421.3 L342.9,420.9 L344.6,420.5 L346.3,420.1 L348.0,419.7 L349.7,419.3 L351.5,418.9 L353.2,418.5 L354.9,418.1 L356.6,417.7 L358.3,417.3 L360.0,416.9 L361.8,416.4 L363.5,416.0 L365.2,415.6 L366.9,415.2 L368.6,414.8 L370.3,414.3 L372.0,413.9 L373.8,413.5 L375.5,413.0 L377.2,412.6 L378.9,412.1 L380.6,411.7 L382.3,411.2 L384.0,410.8 L385.7,410.3 L387.4,409.8 L389.1,409.4 L390.8,408.9 L392.5,408.4 L394.2,407.9 L395.9,407.4 L397.6,406.9 L399.3,406.4 L401.0,405.9 L402.7,405.4 L404.4,404.9 L406.1,404.4 L407.8,403.9 L409.5,403.4 L411.2,402.9 L412.9,402.4 L414.6,401.9 L416.3,401.4 L418.0,400.9 L419.7,400.4 L421.4,400.0 L423.2,399.5 L424.9,399.1 L426.6,398.6 L428.3,398.2 L430.0,397.8 L431.7,397.4 L433.4,397.0 L435.1,396.6 L436.9,396.3 L438.6,396.0 L440.3,395.6 L442.1,395.4 L443.8,395.1 L445.5,394.8 L447.3,394.6 L449.0,394.4 L450.8,394.2 L452.5,394.0 L454.3,393.8 L456.0,393.7 L457.8,393.6 L459.5,393.5 L461.3,393.4 L463.0,393.3 L464.8,393.3 L466.6,393.2 L468.3,393.2 L470.1,393.2 L471.9,393.2 L473.6,393.2 L475.4,393.3 L477.2,393.3 L478.9,393.3 L480.7,393.4 L482.5,393.4 L484.3,393.4 L486.0,393.4 L487.8,393.5 L489.6,393.5 L491.4,393.5 L493.1,393.5 L494.9,393.5 L496.7,393.4 L498.4,393.4 L500.2,393.4 L502.0,393.3 L503.7,393.2 L505.5,393.2 L507.3,393.1 L509.1,393.0 L510.8,392.9 L512.6,392.8 L514.4,392.8 L516.1,392.7 L517.9,392.6 L519.7,392.5 L521.4,392.4 L523.2,392.3 L525.0,392.2 L526.7,392.1 L528.5,392.0 L530.3,391.9 L532.0,391.8 L533.8,391.8 L535.5,391.7 L537.3,391.6 L539.1,391.6 L540.8,391.5 L542.6,391.5 L544.4,391.5 L546.1,391.5 L547.9,391.5 L549.7,391.5 L551.4,391.5 L553.2,391.5 L554.9,391.6 L556.7,391.7 L558.5,391.7 L560.2,391.8 L562.0,391.9 L563.8,392.1 L565.5,392.2 L567.3,392.4 L569.0,392.5 L570.8,392.7 L572.6,392.9 L574.3,393.0 L576.1,393.2 L577.8,393.4 L579.6,393.6 L581.4,393.8 L583.1,394.0 L584.9,394.3 L586.6,394.5 L588.4,394.7 L590.2,394.9 L591.9,395.1 L593.7,395.3 L595.4,395.5 L597.2,395.7 L599.0,395.9 L600.7,396.1 L602.5,396.2 L604.2,396.4 L606.0,396.6 L607.8,396.7 L609.5,396.9 L611.3,397.0 L613.0,397.1 L614.8,397.2 L616.6,397.3 L618.3,397.4 L620.1,397.4 L621.8,397.4 L623.6,397.5 L625.4,397.4 L627.1,397.4 L628.9,397.4 L630.6,397.3 L632.4,397.3 L634.2,397.2 L635.9,397.1 L637.7,397.0 L639.5,396.8 L641.2,396.7 L643.0,396.6 L644.7,396.4 L646.5,396.3 L648.3,396.1 L650.0,395.9 L651.8,395.7 L653.6,395.5 L655.3,395.3 L657.1,395.1 L658.8,394.9 L660.6,394.7 L662.4,394.5 L664.1,394.3 L665.9,394.1 L667.7,393.9 L669.4,393.7 L671.2,393.5 L672.9,393.4 L674.7,393.2 L676.5,393.0 L678.2,392.8 L680.0,392.6 L681.8,392.5 L683.5,392.3 L685.3,392.2 L687.0,392.1 L688.8,391.9 L690.6,391.8 L692.3,391.7 L694.1,391.7 L695.9,391.6 L697.6,391.5 L699.4,391.5 L701.1,391.4 L702.9,391.4 L704.7,391.4 L706.4,391.3 L708.2,391.3 L710.0,391.3 L711.7,391.3 L713.5,391.4 L715.2,391.4 L717.0,391.4 L718.8,391.5 L720.5,391.5 L722.3,391.6 L724.1,391.6 L725.8,391.7 L727.6,391.8 L729.3,391.8 L731.1,391.9 L732.9,392.0 L734.6,392.1 L736.4,392.2 L738.2,392.3 L739.9,392.4 L741.7,392.5 L743.4,392.6 L745.2,392.7 L747.0,392.9 L748.7,393.0 L750.5,393.1 L752.3,393.2 L754.0,393.4 L755.8,393.5 L757.5,393.6 L759.3,393.8 L761.1,393.9 L762.8,394.1 L764.6,394.2 L766.4,394.3 L768.1,394.5 L769.9,394.6 L771.6,394.8 L773.4,394.9 L775.2,395.0 L776.9,395.2 L778.7,395.3 L780.5,395.4 L782.2,395.6 L784.0,395.7 L785.8,395.8 L787.5,395.9 L789.3,396.1 L791.0,396.2 L792.8,396.3 L794.6,396.4 L796.3,396.5 L798.1,396.6 L799.9,396.7 L801.6,396.8 L803.4,396.9 L805.1,397.0 L806.9,397.1 L808.7,397.2 L810.4,397.3 L812.2,397.4 L814.0,397.5 L815.7,397.6 L817.5,397.7 L819.3,397.7 L821.0,397.8 L822.8,397.9 L824.5,398.0 L826.3,398.1 L828.1,398.1 L829.8,398.2 L831.6,398.3 L833.4,398.3 L835.1,398.4 L836.9,398.5 L838.7,398.5 L840.4,398.6 L842.2,398.7 L844.0,398.7 L845.7,398.8 L847.5,398.8 L849.2,398.9 L851.0,399.0 L852.8,399.0 L854.5,399.1 L856.3,399.1 L858.1,399.2 L859.8,399.2 L861.6,399.3 L863.4,399.3 L865.1,399.4 L866.9,399.4 L868.7,399.5 L870.4,399.5 L872.2,399.6 L874.0,399.6 L875.7,399.7 L877.5,399.7 L879.3,399.8 L881.0,399.8 L882.8,399.9 L884.5,399.9 L886.3,400.0 L888.1,400.0 L889.8,400.1 L891.6,400.2 L893.4,400.2 L895.1,400.3 L896.9,400.3 L898.7,400.4 L900.4,400.5 L902.2,400.5 L904.0,400.6 L905.7,400.7 L907.5,400.7 L909.2,400.8 L911.0,400.9 L912.8,401.0 L914.5,401.0 L916.3,401.1 L918.1,401.2 L919.8,401.3 L921.6,401.4 L923.4,401.5 L925.1,401.6 L926.9,401.7 L928.6,401.8 L930.4,401.9 L932.2,402.0 L933.9,402.1 L935.7,402.2 L937.4,402.3 L939.2,402.5 L941.0,402.6 L942.7,402.7 L944.5,402.9 L946.2,403.0 L948.0,403.1 L949.8,403.3 L951.5,403.4 L953.3,403.6 L955.0,403.8 L956.8,403.9 L958.6,404.1 L960.3,404.3 L962.1,404.4 L963.8,404.6 L965.6,404.8 L967.3,405.0 L969.1,405.2 L970.8,405.4 L972.6,405.6 L974.4,405.8 L976.1,406.1 L977.9,406.3 L979.6,406.5 L981.4,406.8 L983.1,407.0 L984.9,407.3 L986.6,407.5 L988.4,407.8 L990.1,408.1 L991.9,408.3 L993.6,408.6 L995.4,408.9 L997.1,409.2 L998.9,409.5 L1000.6,409.8 L1002.4,410.1 L1004.1,410.5 L1005.8,410.8 L1007.6,411.1 L1009.3,411.5 L1011.0,411.8 L1012.8,412.2 L1014.5,412.6 L1016.2,413.0 L1018.0,413.3 L1019.7,413.7 L1021.4,414.1 L1023.1,414.5 L1024.8,415.0 L1026.6,415.4 L1028.3,415.8 L1030.0,416.3 L1031.7,416.7 L1033.4,417.2 L1035.1,417.7 L1036.8,418.1 L1038.5,418.6 L1040.2,419.1 L1041.9,419.6 L1043.6,420.2 L1045.2,420.7 L1046.9,421.2 L1048.6,421.8 L1050.3,422.3 L1051.9,422.9 L1053.6,423.4 L1055.3,424.0 L1056.9,424.6 L1058.6,425.2 L1060.3,425.8 L1061.9,426.3 L1063.6,426.9 L1065.2,427.5 L1066.9,428.1 L1068.5,428.8 L1070.2,429.4 L1071.9,430.0 L1073.5,430.6 L1075.2,431.2 L1076.8,431.8 L1078.5,432.4 L1080.1,433.0 L1081.8,433.6 L1083.5,434.2 L1085.1,434.8 L1086.8,435.4 L1088.5,436.0 L1090.1,436.6 L1091.8,437.2 L1093.5,437.7 L1095.1,438.3 L1096.8,438.9 L1098.5,439.4 L1100.2,439.9 L1101.8,440.5 L1103.5,441.0 L1105.2,441.5 L1106.9,442.0 L1108.6,442.5 L1110.3,443.0 L1112.0,443.5 L1113.7,443.9 L1115.4,444.4 L1117.1,444.8 L1118.8,445.3 L1120.5,445.7 L1122.3,446.1 L1124.0,446.5 L1125.7,446.9 L1127.5,447.2 L1129.2,447.6 L1130.9,448.0 L1132.7,448.3 L1134.4,448.6 L1136.2,449.0 L1138.0,449.3 L1139.7,449.6 L1141.5,449.9 L1143.3,450.2 L1145.0,450.5 L1146.8,450.8 L1148.5,451.1 L1150.3,451.4 L1152.1,451.8 L1153.8,452.1 L1155.5,452.5 L1157.2,452.9 L1158.9,453.4 L1160.6,453.8 L1162.3,454.3 L1164.0,454.9 L1165.6,455.4 L1167.2,456.1 L1168.8,456.8 L1170.4,457.5 L1172.0,458.3 L1173.5,459.1 L1175.0,459.9 L1176.5,460.8 L1178.0,461.8 L1179.5,462.8 L1180.9,463.8 L1182.3,464.9 L1183.7,465.9 L1185.1,467.1 L1186.5,468.2 L1187.9,469.4 L1189.2,470.6 L1190.6,471.8 L1191.9,473.0 L1193.2,474.3 L1194.5,475.5 L1195.8,476.8 L1197.1,478.1 L1198.4,479.4 L1199.7,480.7 L1201.0,482.0 L1202.2,483.3 L1203.5,484.6 L1204.7,485.9 L1206.0,487.2 L1207.2,488.5 L1208.5,489.8 L1209.7,491.1 L1211.0,492.4 L1212.2,493.7 L1213.5,494.9 L1214.7,496.1 L1215.9,497.3 L1217.2,498.5 L1218.4,499.7 L1219.7,500.8 L1221.0,501.9 L1222.2,503.0 L1223.5,504.0" stroke="#f2f2f2" stroke-width="6.0" stroke-dasharray="19.8 12.7"/>
</g>
<g font-family="Liberation Sans, sans-serif" stroke="#fff" stroke-width="0.55" font-size="30.5" fill="#fff"><text x="182.8" y="143.0" text-anchor="end">500</text><text x="1430.3" y="143.0">500</text><text x="182.8" y="197.0" text-anchor="end">455</text><text x="1430.3" y="197.0">455</text><text x="182.8" y="250.9" text-anchor="end">410</text><text x="1430.3" y="250.9">410</text><text x="182.8" y="304.9" text-anchor="end">365</text><text x="1430.3" y="304.9">365</text><text x="182.8" y="358.9" text-anchor="end">320</text><text x="1430.3" y="358.9">320</text><text x="182.8" y="412.9" text-anchor="end">275</text><text x="1430.3" y="412.9">275</text><text x="182.8" y="466.8" text-anchor="end">230</text><text x="1430.3" y="466.8">230</text><text x="182.8" y="520.8" text-anchor="end">185</text><text x="1430.3" y="520.8">185</text><text x="182.8" y="574.8" text-anchor="end">140</text><text x="1430.3" y="574.8">140</text><text x="182.8" y="628.7" text-anchor="end">95</text><text x="1430.3" y="628.7">95</text><text x="182.8" y="682.7" text-anchor="end">50</text><text x="1430.3" y="682.7">50</text><text x="197.5" y="712" text-anchor="middle">2000</text><text x="319.4" y="712" text-anchor="middle">2520</text><text x="441.4" y="712" text-anchor="middle">3040</text><text x="563.3" y="712" text-anchor="middle">3560</text><text x="685.2" y="712" text-anchor="middle">4080</text><text x="807.1" y="712" text-anchor="middle">4600</text><text x="929.0" y="712" text-anchor="middle">5120</text><text x="1050.9" y="712" text-anchor="middle">5640</text><text x="1172.8" y="712" text-anchor="middle">6160</text><text x="1294.7" y="712" text-anchor="middle">6680</text><text x="1416.6" y="712" text-anchor="middle">7200</text></g>
<text font-family="Liberation Sans, sans-serif" stroke="#fff" stroke-width="0.55" font-size="44.6" fill="#fff" x="804.9" y="79.8" text-anchor="middle">3.0T CREC Stage 2 E85</text>
<text font-family="Liberation Sans, sans-serif" stroke="#fff" stroke-width="0.55" font-size="44.7" fill="#fff" x="795.4" y="765.1" text-anchor="middle">Engine Speed (RPM)</text>
<text font-family="Liberation Sans, sans-serif" stroke="#fff" stroke-width="0.55" font-size="35.6" fill="#fff" transform="translate(72.6,419.2) rotate(-90)" text-anchor="middle">Wheel Horsepower (HP)</text>
<text font-family="Liberation Sans, sans-serif" stroke="#fff" stroke-width="0.55" font-size="30" fill="#fff" transform="translate(1548.8,419.1) rotate(-90)" text-anchor="middle">Wheel Torque (FT-LBS)</text>
<rect x="85.8" y="845.3" width="18.1" height="6.4" fill="#ffff00"/><rect x="424" y="845.5" width="18.1" height="6.2" fill="#f2f2f2"/><rect x="743" y="845.3" width="19.2" height="6.4" fill="#ffff00"/><rect x="775.8" y="845.3" width="19.2" height="6.4" fill="#ffff00"/><rect x="1144.4" y="845.5" width="19.5" height="6.2" fill="#f2f2f2"/><rect x="1177" y="845.5" width="19.5" height="6.2" fill="#f2f2f2"/>
<g font-family="Liberation Sans, sans-serif" stroke="#fff" stroke-width="0.55" font-size="35.8" fill="#fff"><text x="115.5" y="857.9">034 - 475 AWHP</text><text x="454.3" y="857.9">034 - 421 AWTQ</text><text x="825" y="857.9">Stock - 281 AWHP</text><text x="1227" y="857.9">Stock - 286AWTQ</text></g>
</svg>
</body></html>
